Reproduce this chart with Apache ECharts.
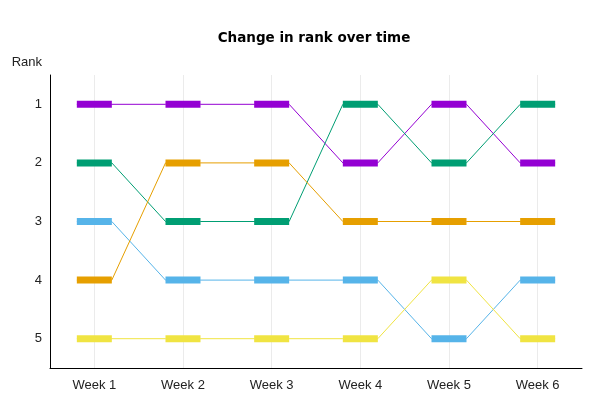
<!DOCTYPE html>
<html>
<head>
<meta charset="utf-8">
<script src="https://cdn.jsdelivr.net/npm/echarts@6/dist/echarts.min.js"></script>
<style>html,body{margin:0;padding:0;background:#fff}#c{width:600px;height:400px}</style>
</head>
<body>
<div id="c"></div>
<script>
const weeks = ['Week 1', 'Week 2', 'Week 3', 'Week 4', 'Week 5', 'Week 6'];
const rankLabels = ['1', '2', '3', '4', '5'];
const purpleRanks = [1, 1, 1, 2, 1, 2];
const greenRanks = [2, 3, 3, 1, 2, 1];
const blueRanks = [3, 4, 4, 4, 5, 4];
const orangeRanks = [4, 2, 2, 3, 3, 3];
const yellowRanks = [5, 5, 5, 5, 4, 5];

const groups = [
  { name: 'Purple', ranks: purpleRanks, color: '#9400D3' },
  { name: 'Green', ranks: greenRanks, color: '#009E73' },
  { name: 'Blue', ranks: blueRanks, color: '#56B4E9' },
  { name: 'Orange', ranks: orangeRanks, color: '#E69F00' },
  { name: 'Yellow', ranks: yellowRanks, color: '#F0E442' }
];

const markW = 35, markH = 7;
const half = 0.197; // half marker width in category units

const series = [];
groups.forEach(g => {
  const lineData = [];
  g.ranks.forEach((r, i) => {
    lineData.push([i - half, String(r)]);
    lineData.push([i + half, String(r)]);
  });
  series.push({
    type: 'line', name: g.name, xAxisIndex: 1, data: lineData,
    showSymbol: false, symbol: 'none', z: 2,
    lineStyle: { color: g.color, width: 1 }, itemStyle: { color: g.color }
  });
  series.push({
    type: 'scatter', name: g.name, xAxisIndex: 1,
    data: g.ranks.map((r, i) => [i, String(r)]),
    symbol: 'rect', symbolSize: [markW, markH], z: 3,
    itemStyle: { color: g.color, opacity: 1 }
  });
});

const chart = echarts.init(document.getElementById('c'), null, { renderer: 'canvas' });
chart.setOption({
  animation: false,
  backgroundColor: '#fff',
  title: {
    text: 'Change in rank over time',
    left: 309, top: 26, textAlign: 'center',
    textStyle: { fontFamily: 'DejaVu Sans', fontWeight: 'bold', fontSize: 13.5, color: '#000' }
  },
  grid: { left: 50, right: 18, top: 75, bottom: 32, containLabel: false },
  xAxis: [
    {
      type: 'category', data: weeks, boundaryGap: true,
      axisLine: { show: true, onZero: false, lineStyle: { color: '#000', width: 1 } },
      axisTick: { show: false },
      axisLabel: { margin: 11, fontFamily: 'Liberation Sans', fontSize: 13, color: '#222' },
      splitLine: { show: true, alignWithLabel: true, lineStyle: { color: '#ebebeb', width: 1 } }
    },
    {
      type: 'value', min: -0.5, max: 5.5, show: false,
      splitLine: { show: false }
    }
  ],
  yAxis: {
    type: 'category', data: rankLabels, inverse: true, boundaryGap: true,
    name: 'Rank', nameLocation: 'start', nameGap: 6,
    nameTextStyle: { fontFamily: 'Liberation Sans', fontSize: 13, color: '#222', align: 'right', padding: [0, 8, 0, 0] },
    axisLine: { show: true, onZero: false, lineStyle: { color: '#000', width: 1 } },
    axisTick: { show: false },
    axisLabel: { margin: 8, fontFamily: 'Liberation Sans', fontSize: 13, color: '#222' },
    splitLine: { show: false }
  },
  series: series
});
</script>
</body>
</html>
